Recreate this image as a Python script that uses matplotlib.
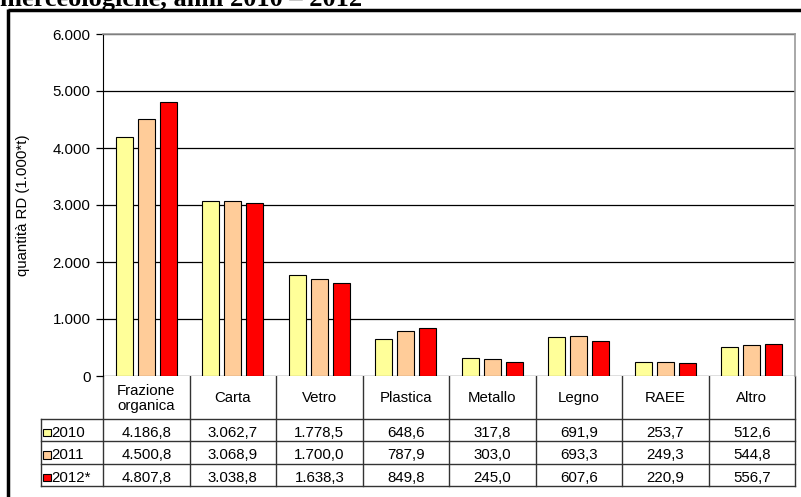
import matplotlib
matplotlib.use('Agg')
import matplotlib.pyplot as plt
import numpy as np

plt.rcParams['font.family'] = ['Liberation Sans', 'DejaVu Sans']

# Data
categories = ['Frazione\norganica', 'Carta', 'Vetro', 'Plastica', 'Metallo', 'Legno', 'RAEE', 'Altro']
years = ['2010', '2011', '2012*']
v2010 = [4186.8, 3062.7, 1778.5, 648.6, 317.8, 691.9, 253.7, 512.6]
v2011 = [4500.8, 3068.9, 1700.0, 787.9, 303.0, 693.3, 249.3, 544.8]
v2012 = [4807.8, 3038.8, 1638.3, 849.8, 245.0, 607.6, 220.9, 556.7]
colors = ['#FFFF99', '#FFCC99', '#FF0000']
yticks = [0, 1000, 2000, 3000, 4000, 5000, 6000]


def fmt(v, dec=1):
    s = f'{v:,.{dec}f}'
    return s.replace(',', 'X').replace('.', ',').replace('X', '.')


W, H = 801, 497
FS = 10.8
fig = plt.figure(figsize=(W / 100, H / 100), dpi=100)

# pixel geometry
left, right, top, bottom = 103, 795, 34, 376
ax = fig.add_axes([left / W, 1 - bottom / H, (right - left) / W, (bottom - top) / H])

series = [v2010, v2011, v2012]
x = np.arange(len(categories))
bw, step = 0.197, 0.254
for i, vals in enumerate(series):
    ax.bar(x + (i - 1) * step, vals, width=bw, color=colors[i], edgecolor='black',
           linewidth=0.8, zorder=3)

ax.set_xlim(-0.5, len(categories) - 0.5)
ax.set_ylim(0, 6000)
ax.set_yticks(yticks)
ax.set_yticklabels([fmt(t, 0) for t in yticks], fontsize=FS)
ax.set_xticks([])
ax.yaxis.grid(True, color='black', linewidth=0.9, zorder=0)
ax.tick_params(axis='y', direction='out', length=5, width=0.9, pad=4)
ax.spines['left'].set_color('black')
ax.spines['top'].set_color('#999999')
ax.spines['right'].set_color('#999999')
ax.spines['bottom'].set_visible(False)
for s in ['top', 'right']:
    ax.spines[s].set_linewidth(1.2)
ax.set_ylabel('quantità RD (1.000*t)', fontsize=FS)
ax.yaxis.label.set_va('center')
ax.yaxis.set_label_coords(-(left - 23) / (right - left), 0.5)

# overlay in pixel coordinates for table, frame and title
ov = fig.add_axes([0, 0, 1, 1], zorder=-1)
ov.set_xlim(0, W)
ov.set_ylim(H, 0)
ov.axis('off')
ov.patch.set_alpha(0)

# column bounds from the bar axis scale
bounds = [ax.transData.transform((c - 0.5, 0))[0] for c in range(len(categories) + 1)]
bounds = [b * W / fig.bbox.width for b in bounds]
leg_left = 41
rows = [376, 418.5, 441, 463.5, 486]
lc = '#333333'
for y in rows[1:]:
    ov.plot([leg_left, bounds[-1]], [y, y], color=lc, lw=1)
ov.plot([leg_left, leg_left], [rows[1], rows[-1]], color=lc, lw=1)
for b in bounds:
    ov.plot([b, b], [rows[0], rows[-1]], color=lc, lw=1)

for c, name in enumerate(categories):
    cx = (bounds[c] + bounds[c + 1]) / 2
    ov.text(cx, (rows[0] + rows[1]) / 2 + 1, name, ha='center', va='center', fontsize=FS,
            linespacing=1.1)
    for r, vals in enumerate(series):
        ov.text(cx, (rows[r + 1] + rows[r + 2]) / 2 + 3, fmt(vals[c]), ha='center',
                va='center', fontsize=FS)

for r, yr in enumerate(years):
    cy = (rows[r + 1] + rows[r + 2]) / 2 + 3
    ov.add_patch(plt.Rectangle((43, cy - 4), 7.5, 7.5, facecolor=colors[r], edgecolor='black', lw=0.8))
    ov.text(51.5, cy, yr, ha='left', va='center', fontsize=FS)

# outer frame (top and left only visible)
ov.plot([7.5, W + 5], [10, 10], color='black', lw=2.5, solid_capstyle='butt')
ov.plot([7.5, 7.5], [8.8, H + 5], color='black', lw=2.5, solid_capstyle='butt')

# cut-off title
ov.text(0, 6, 'merceologiche, anni 2010 – 2012', ha='left', va='baseline', fontsize=19,
        fontweight='bold', family=['Liberation Serif', 'DejaVu Serif'])

fig.savefig('out.png', dpi=100)
